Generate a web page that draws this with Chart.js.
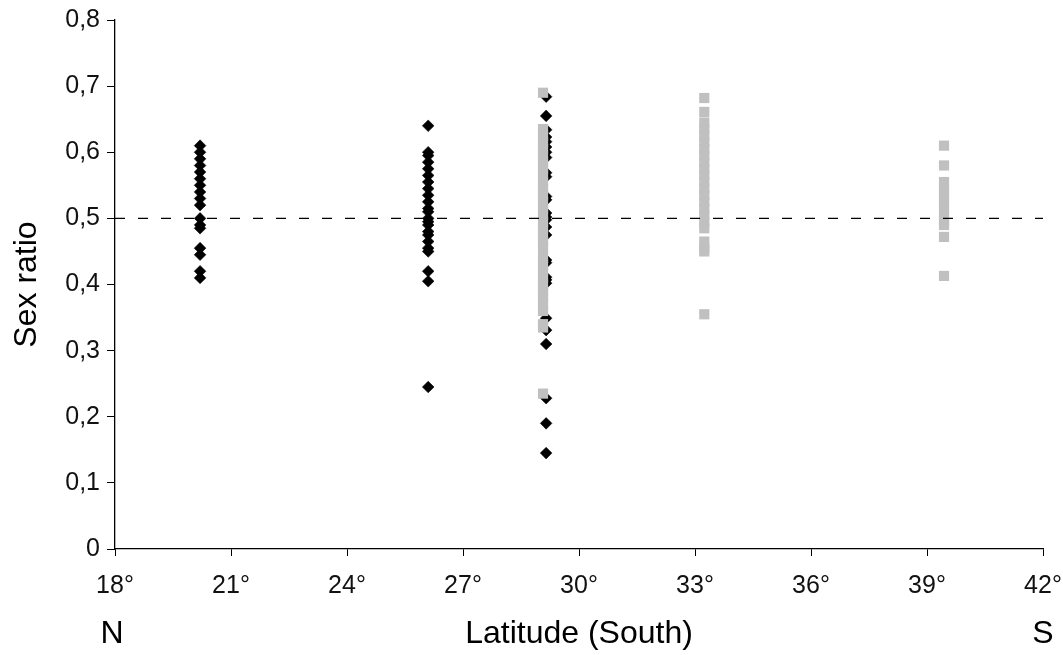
<!DOCTYPE html>
<html>
<head>
<meta charset="utf-8">
<script src="https://cdn.jsdelivr.net/npm/chart.js@4/dist/chart.umd.min.js"></script>
<style>
  html, body { margin: 0; padding: 0; background: #ffffff; }
  #wrap { width: 1063px; height: 655px; position: relative; }
</style>
</head>
<body>
<div id="wrap"><canvas id="c"></canvas></div>
<script>
// ---- Data ----
const xTitle = 'Latitude (South)';
const yTitle = 'Sex ratio';
const endLabels = ['N', 'S'];
const xMin = 18, xMax = 42, xStep = 3;
const yMin = 0, yMax = 0.8, yStep = 0.1;

// black diamonds: latitude of each sampled population and its sex ratios
const blackLat = [20.2, 26.1, 29.15];
const blackRatios20 = [0.61, 0.60, 0.59, 0.58, 0.57, 0.56, 0.55, 0.54, 0.53, 0.52, 0.50, 0.49, 0.485, 0.455, 0.445, 0.42, 0.41];
const blackRatios26 = [0.64, 0.60, 0.595, 0.585, 0.575, 0.565, 0.555, 0.545, 0.535, 0.525, 0.515, 0.51, 0.50, 0.495, 0.49, 0.48, 0.475, 0.465, 0.455, 0.45, 0.42, 0.405, 0.245];
const blackRatios29 = [0.684, 0.655, 0.634, 0.623, 0.616, 0.608, 0.60, 0.592, 0.569, 0.563, 0.533, 0.528, 0.508, 0.502, 0.498, 0.487, 0.475, 0.437, 0.433, 0.411, 0.407, 0.402, 0.349, 0.331, 0.31, 0.228, 0.19, 0.145];

// grey squares
const greyLat = [29.07, 33.24, 39.44];
const greyRatios29 = [0.69, 0.635, 0.625, 0.615, 0.605, 0.595, 0.585, 0.575, 0.565, 0.555, 0.545, 0.535, 0.525, 0.515, 0.505, 0.495, 0.485, 0.475, 0.465, 0.455, 0.44, 0.43, 0.42, 0.41, 0.40, 0.39, 0.38, 0.37, 0.36, 0.34, 0.335, 0.235];
const greyRatios33 = [0.682, 0.661, 0.645, 0.635, 0.625, 0.615, 0.605, 0.595, 0.585, 0.575, 0.565, 0.555, 0.545, 0.535, 0.525, 0.515, 0.505, 0.495, 0.485, 0.465, 0.455, 0.45, 0.355];
const greyRatios39 = [0.61, 0.58, 0.555, 0.545, 0.535, 0.525, 0.515, 0.505, 0.495, 0.49, 0.472, 0.413];

// reference line (sex ratio 0.5)
const refLineX = [18, 42];
const refLineY = [0.5, 0.5];

// ---- Build datasets ----
function toPoints(lats, groups) {
  const pts = [];
  groups.forEach((g, i) => g.forEach(v => pts.push({ x: lats[i], y: v })));
  return pts;
}
const blackPts = toPoints(blackLat, [blackRatios20, blackRatios26, blackRatios29]);
const greyPts = toPoints(greyLat, [greyRatios29, greyRatios33, greyRatios39]);
const refPts = refLineX.map((x, i) => ({ x, y: refLineY[i] }));

const FONT = '"Liberation Sans", Arial, sans-serif';
const TITLE_SIZE = 32;
const TICK_SIZE = 25;
const TITLE_PAD_BOTTOM = 2;

const endLabelPlugin = {
  id: 'endLabels',
  afterDraw(chart) {
    const { ctx } = chart;
    const xs = chart.scales.x;
    ctx.save();
    ctx.font = TITLE_SIZE + 'px ' + FONT;
    ctx.fillStyle = '#000';
    ctx.textAlign = 'center';
    ctx.textBaseline = 'middle';
    const y = xs.bottom - TITLE_PAD_BOTTOM - TITLE_SIZE * 1.2 / 2;
    ctx.fillText(endLabels[0], xs.getPixelForValue(xMin) - 3, y);
    ctx.fillText(endLabels[1], xs.getPixelForValue(xMax), y);
    ctx.restore();
  }
};

new Chart(document.getElementById('c'), {
  type: 'scatter',
  data: {
    datasets: [
      {
        label: 'ref',
        data: refPts,
        showLine: true,
        borderColor: '#000',
        borderWidth: 1.4,
        borderDash: [10, 13],
        pointRadius: 0,
        fill: false,
        order: 0
      },
      {
        label: 'grey',
        data: greyPts,
        pointStyle: 'rect',
        pointRadius: 7.2,
        backgroundColor: '#c0c0c0',
        borderColor: '#c0c0c0',
        borderWidth: 0,
        order: 1
      },
      {
        label: 'black',
        data: blackPts,
        pointStyle: 'rectRot',
        pointRadius: 5.8,
        backgroundColor: '#000',
        borderColor: '#000',
        borderWidth: 0.6,
        order: 2
      }
    ]
  },
  options: {
    responsive: true,
    maintainAspectRatio: false,
    animation: false,
    layout: { padding: { top: 20, right: 20, left: 8, bottom: 0 } },
    plugins: {
      legend: { display: false },
      tooltip: { enabled: false }
    },
    scales: {
      x: {
        type: 'linear',
        min: xMin, max: xMax,
        grid: { display: true, drawOnChartArea: false, drawTicks: true, tickLength: 7, color: '#000', tickColor: '#000' },
        border: { display: true, color: '#000', width: 1.3 },
        ticks: {
          stepSize: xStep,
          padding: 15,
          color: '#111',
          maxRotation: 0,
          font: { family: FONT, size: TICK_SIZE },
          callback: v => v + '°'
        },
        title: {
          display: true,
          text: xTitle,
          color: '#000',
          font: { family: FONT, size: TITLE_SIZE },
          padding: { top: 4, bottom: TITLE_PAD_BOTTOM }
        },
        afterFit: s => { s.height = 106; s.paddingLeft = 0; s.paddingRight = 0; }
      },
      y: {
        type: 'linear',
        min: yMin, max: yMax,
        grid: { display: true, drawOnChartArea: false, drawTicks: true, tickLength: 8, color: '#000', tickColor: '#000' },
        border: { display: true, color: '#000', width: 1.3 },
        ticks: {
          stepSize: yStep,
          padding: 7,
          color: '#111',
          font: { family: FONT, size: TICK_SIZE },
          callback: v => (Math.abs(v) < 1e-9 ? '0' : Number(v).toFixed(1).replace('.', ','))
        },
        title: {
          display: true,
          text: yTitle,
          color: '#000',
          font: { family: FONT, size: TITLE_SIZE },
          padding: { top: 0, bottom: 8 }
        },
        afterFit: s => { s.width = 107; s.paddingTop = 0; s.paddingBottom = 0; }
      }
    }
  },
  plugins: [endLabelPlugin]
});
</script>
</body>
</html>
